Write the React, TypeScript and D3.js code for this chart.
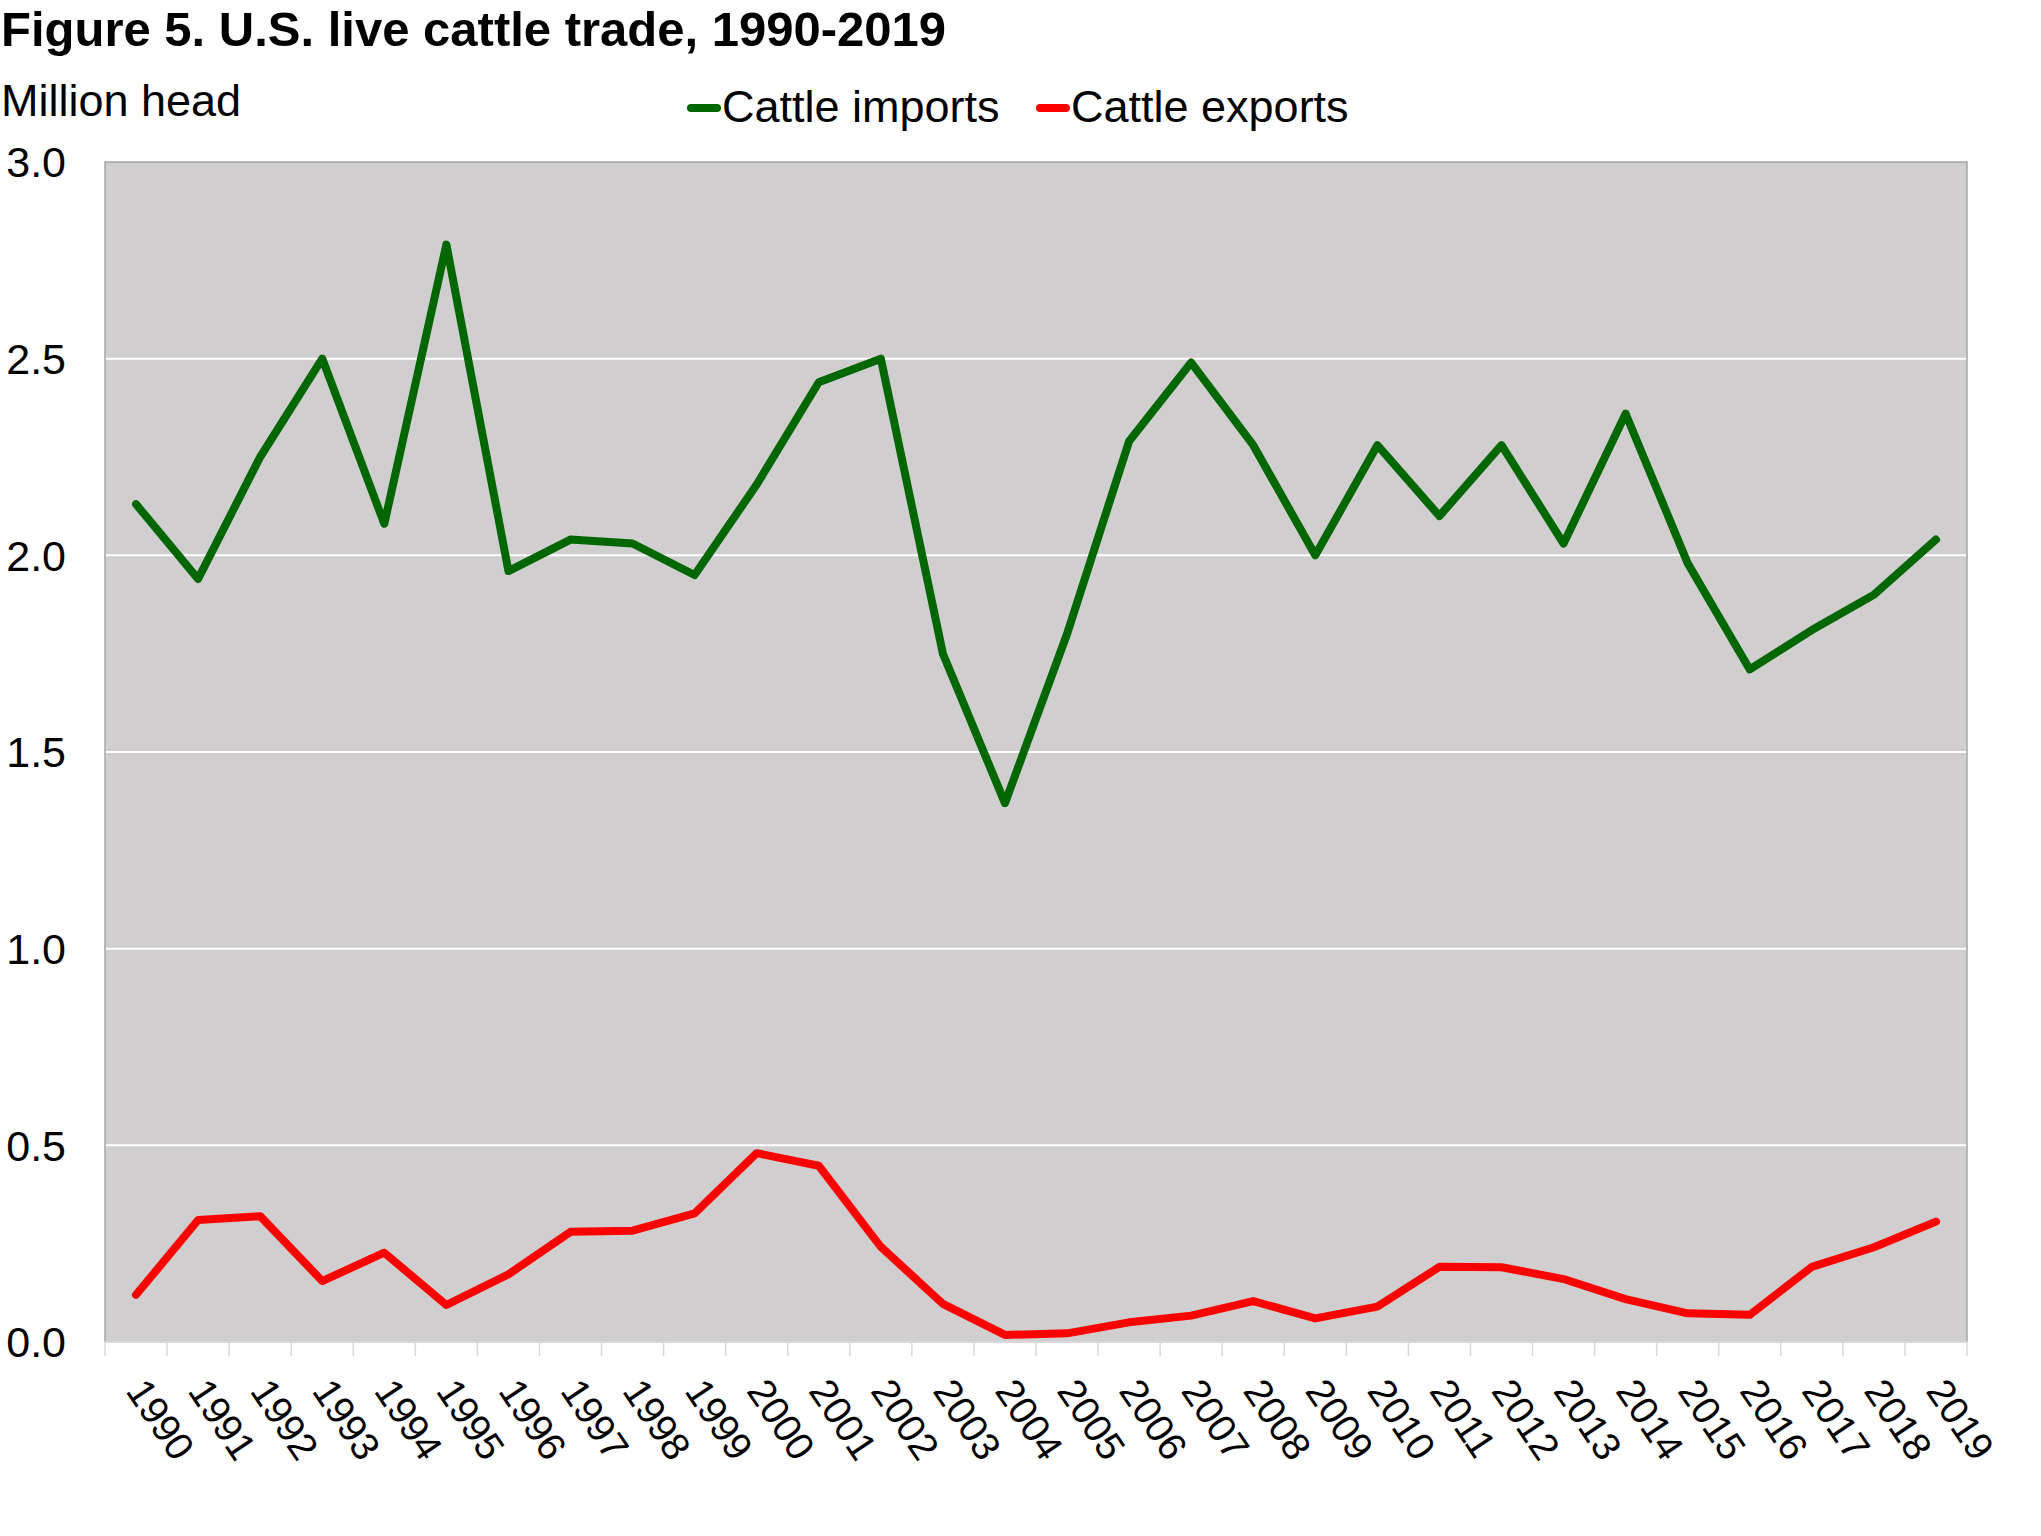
import * as d3 from "d3";

const years = d3.range(1990, 2020).map(String);

const cattleImports = [
  2.13, 1.94, 2.25, 2.5, 2.08, 2.79, 1.96, 2.04, 2.03, 1.95,
  2.18, 2.44, 2.5, 1.75, 1.37, 1.8, 2.29, 2.49, 2.28, 2.0,
  2.28, 2.1, 2.28, 2.03, 2.36, 1.98, 1.71, 1.81, 1.9, 2.04,
];

const cattleExports = [
  0.12, 0.31, 0.32, 0.155, 0.227, 0.094, 0.172, 0.28, 0.283, 0.327,
  0.48, 0.448, 0.242, 0.097, 0.018, 0.022, 0.05, 0.067, 0.104, 0.06,
  0.09, 0.191, 0.19, 0.16, 0.109, 0.073, 0.069, 0.191, 0.241, 0.306,
];

const yTicks = [0, 0.5, 1, 1.5, 2, 2.5, 3];

const series = [
  { key: "imports", label: "Cattle imports", color: "#006600", values: cattleImports },
  { key: "exports", label: "Cattle exports", color: "#ff0000", values: cattleExports },
];

const WIDTH = 2041;
const HEIGHT = 1536;
const FONT = "'Liberation Sans', Arial, sans-serif";

export default function App() {
  const margin = { top: 162, right: 74, bottom: 194, left: 105 };
  const innerWidth = WIDTH - margin.left - margin.right;
  const innerHeight = HEIGHT - margin.top - margin.bottom;

  const xScale = d3.scaleBand().domain(years).range([0, innerWidth]).padding(0);
  const yScale = d3.scaleLinear().domain([0, 3]).range([innerHeight, 0]);

  const line = d3
    .line<number>()
    .x((_, i) => (xScale(years[i]) || 0) + xScale.bandwidth() / 2)
    .y((d) => yScale(d));

  const boundaries = years.map((y) => xScale(y) || 0).concat(innerWidth);

  // legend swatch start positions
  const legendItems = [
    { ...series[0], x: 687 },
    { ...series[1], x: 1036 },
  ];

  return (
    <div style={{ position: "absolute", left: 0, top: 0 }}>
      <svg width={WIDTH} height={HEIGHT} style={{ display: "block", background: "#fff" }} fontFamily={FONT}>
        {/* Title and unit */}
        <text x={1} y={46} fontSize={49} fontWeight="bold" fill="#000">
          Figure 5. U.S. live cattle trade, 1990-2019
        </text>
        <text x={1} y={116} fontSize={45} fill="#000">
          Million head
        </text>

        {/* Legend */}
        {legendItems.map((item) => (
          <g key={item.key} transform={`translate(${item.x}, 108)`}>
            <line x1={4} x2={30} y1={0} y2={0} stroke={item.color} strokeWidth={8} strokeLinecap="round" />
            <text x={35} y={14} fontSize={45} fill="#000">
              {item.label}
            </text>
          </g>
        ))}

        <g transform={`translate(${margin.left}, ${margin.top})`}>
          <rect x={0} y={0} width={innerWidth} height={innerHeight} fill="#d0cecf" />

          {/* Grid lines */}
          {yTicks.slice(1, -1).map((t) => (
            <line key={t} x1={0} x2={innerWidth} y1={yScale(t)} y2={yScale(t)} stroke="#ffffff" strokeWidth={2} />
          ))}

          {/* Plot border */}
          <path
            d={`M0,${innerHeight} V0 H${innerWidth} V${innerHeight}`}
            fill="none"
            stroke="#a6a6a6"
            strokeWidth={1.5}
          />

          {/* X axis */}
          <line x1={0} x2={innerWidth} y1={innerHeight} y2={innerHeight} stroke="#d9d9d9" strokeWidth={2} />
          {boundaries.map((b, i) => (
            <line key={i} x1={b} x2={b} y1={innerHeight} y2={innerHeight + 14} stroke="#d9d9d9" strokeWidth={1.5} />
          ))}
          {years.map((yr) => {
            const cx = (xScale(yr) || 0) + xScale.bandwidth() / 2;
            return (
              <text
                key={yr}
                transform={`translate(${cx - 11}, ${innerHeight + 49}) rotate(56)`}
                fontSize={39}
                fill="#000"
              >
                {yr}
              </text>
            );
          })}

          {/* Y axis labels */}
          {yTicks.map((t) => (
            <text
              key={t}
              x={-39}
              y={yScale(t)}
              dy="0.36em"
              textAnchor="end"
              fontSize={43}
              fill="#000"
            >
              {t.toFixed(1)}
            </text>
          ))}

          {/* Lines */}
          {series.map((s) => (
            <path
              key={s.key}
              d={line(s.values) || ""}
              fill="none"
              stroke={s.color}
              strokeWidth={8}
              strokeLinejoin="round"
              strokeLinecap="round"
            />
          ))}
        </g>
      </svg>
    </div>
  );
}
